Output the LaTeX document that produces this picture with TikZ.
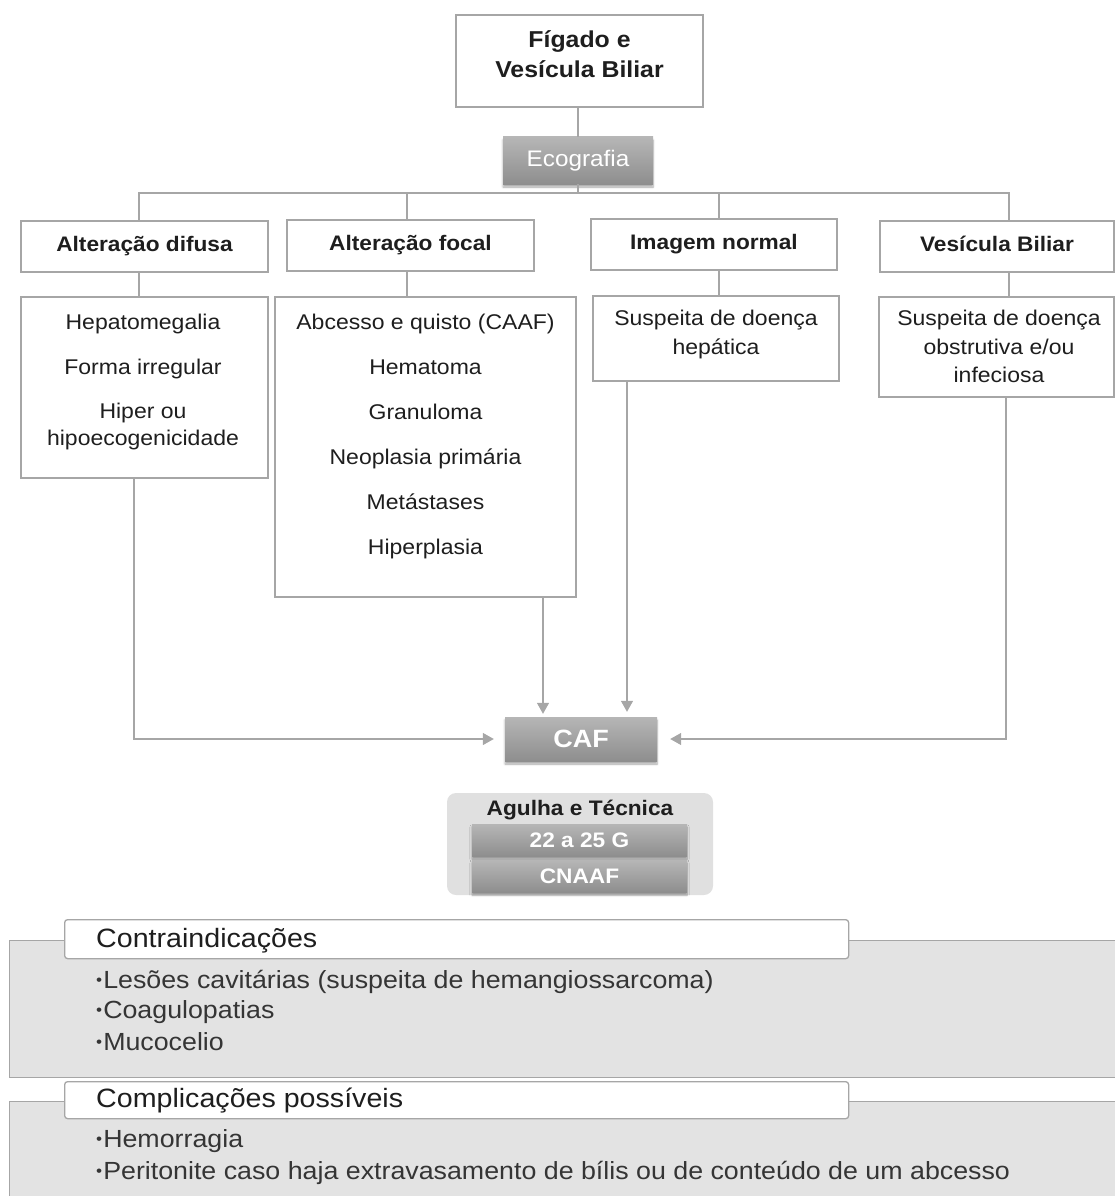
\documentclass[tikz,border=0pt]{standalone}
\usepackage{fontspec}
\setmainfont{Liberation Sans}[FakeStretch=1.08]
\usetikzlibrary{arrows.meta,shadows.blur}
\definecolor{lin}{HTML}{A6A6A6}
\definecolor{panel}{HTML}{E3E3E3}
\definecolor{agbg}{HTML}{E0E0E0}
\definecolor{gtop}{HTML}{B6B6B6}
\definecolor{gbot}{HTML}{8E8E8E}
\definecolor{ink}{HTML}{1E1E1E}
\newcommand\bdot{\raisebox{2.5pt}{\fontsize{16}{16}\selectfont •}\hspace{1pt}}
\tikzset{
  box/.style={draw=lin, line width=1.3pt, fill=white, inner sep=0pt},
  gbox/.style={inner sep=0pt, top color=gtop, bottom color=gbot, text=white,
     blur shadow={shadow xshift=0pt, shadow yshift=-3pt, shadow blur steps=6, shadow opacity=35}},
  conn/.style={draw=lin, line width=1.3pt},
  arr/.style={conn, -{Triangle[length=11pt,width=12pt]}},
  lbl/.style={anchor=base, inner sep=0pt, text=ink},
  body/.style={lbl, font=\fontsize{21.3}{25}\selectfont},
  head/.style={font=\bfseries\fontsize{21}{25}\selectfont, text=ink, text height=15pt, text depth=4.5pt},
  panelbox/.style={draw=lin, line width=1.3pt, fill=panel, inner sep=0pt, anchor=north west},
  tbox/.style={draw=lin, line width=1.3pt, fill=white, rounded corners=3pt, inner sep=0pt, anchor=north west},
  btitle/.style={anchor=base west, inner sep=0pt, text=ink, font=\fontsize{26.5}{30}\selectfont},
  bitem/.style={anchor=base west, inner sep=0pt, text=ink!90, font=\fontsize{24.8}{28}\selectfont},
}
\begin{document}
\begin{tikzpicture}[x=1pt,y=-1pt]
\path[use as bounding box] (0,0) rectangle (1115,1196);

% top
\node[box, minimum width=247pt, minimum height=92pt] (top) at (579.5,61) {};
\node[lbl, font=\bfseries\fontsize{23}{27}\selectfont] (topa) at (579.5,48) {Fígado e};
\node[lbl, font=\bfseries\fontsize{23}{27}\selectfont] (topb) at (579.5,78) {Vesícula Biliar};

\node[gbox, minimum width=150pt, minimum height=47pt, font=\fontsize{22.5}{27}\selectfont] (eco) at (578,160.5) {Ecografia};
\draw[conn] (eco.north |- top.south) -- (eco.north);
\coordinate (bar) at (578,193);

% level 2
\node[box, head, minimum width=247pt, minimum height=51pt] (difusa) at (144.5,246.5) {Alteração difusa};
\node[box, head, minimum width=247pt, minimum height=51pt] (focal) at (410.5,245.5) {Alteração focal};
\node[box, head, minimum width=246pt, minimum height=51pt] (normal) at (714,244.5) {Imagem normal};
\node[box, head, minimum width=234pt, minimum height=51pt] (vesic) at (997,246.5) {Vesícula Biliar};

\draw[conn] (eco.south) -- (bar);
\draw[conn] ([xshift=-5.5pt]difusa.north) |- (bar) -| ([xshift=12pt]vesic.north);
\draw[conn] ([xshift=-3.5pt]focal.north) |- (bar);
\draw[conn] ([xshift=5pt]normal.north) |- (bar);

% level 3
\node[box, minimum width=247pt, minimum height=181pt] (hep) at (144.5,387.5) {};
\node[box, minimum width=301pt, minimum height=300pt] (abc) at (425.5,447) {};
\node[box, minimum width=246pt, minimum height=85pt] (hepat) at (716,338.5) {};
\node[box, minimum width=235pt, minimum height=100pt] (obst) at (996.5,347) {};

\draw[conn] ([xshift=-5.5pt]difusa.south) -- ([xshift=-5.5pt]difusa.south |- hep.north);
\draw[conn] ([xshift=-3.5pt]focal.south) -- ([xshift=-3.5pt]focal.south |- abc.north);
\draw[conn] ([xshift=5pt]normal.south) -- ([xshift=5pt]normal.south |- hepat.north);
\draw[conn] ([xshift=12pt]vesic.south) -- ([xshift=12pt]vesic.south |- obst.north);

\node[body] (h1) at (143,329.5) {Hepatomegalia};
\node[body] (h2) at (143,374.5) {Forma irregular};
\node[body] (h3) at (143,418.5) {Hiper ou};
\node[body] (h4) at (143,445.5) {hipoecogenicidade};

\node[body] (a1) at (425.5,329.5) {Abcesso e quisto (CAAF)};
\node[body] (a2) at (425.5,374.5) {Hematoma};
\node[body] (a3) at (425.5,419.5) {Granuloma};
\node[body] (a4) at (425.5,464.5) {Neoplasia primária};
\node[body] (a5) at (425.5,509.5) {Metástases};
\node[body] (a6) at (425.5,554.5) {Hiperplasia};

\node[body] (n1) at (716,325) {Suspeita de doença};
\node[body] (n2) at (716,354) {hepática};

\node[body] (v1) at (999,325) {Suspeita de doença};
\node[body] (v2) at (999,354) {obstrutiva e/ou};
\node[body] (v3) at (999,382) {infeciosa};

% CAF
\node[gbox, minimum width=152pt, minimum height=44pt, font=\bfseries\fontsize{25}{29}\selectfont] (caf) at (581,739) {CAF};

\draw[arr, shorten >=11pt] ([xshift=-10.5pt]hep.south) |- (caf.west);
\draw[arr, shorten >=3pt] ([xshift=117.5pt]abc.south) -- ([xshift=117.5pt]abc.south |- caf.north);
\draw[arr, shorten >=5pt] ([xshift=-89pt]hepat.south) -- ([xshift=-89pt]hepat.south |- caf.north);
\draw[arr, shorten >=13pt] ([xshift=9.5pt]obst.south) |- (caf.east);

% Agulha
\node[fill=agbg, rounded corners=9pt, minimum width=266pt, minimum height=102pt, inner sep=0pt] (agp) at (580,844) {};
\node[lbl, font=\bfseries\fontsize{21}{25}\selectfont] (agt) at (580,815) {Agulha e Técnica};
\node[gbox, minimum width=215pt, minimum height=32pt, font=\bfseries\fontsize{21}{25}\selectfont] (g22) at (579.5,840) {22 a 25 G};
\node[gbox, minimum width=215pt, minimum height=32pt, font=\bfseries\fontsize{21}{25}\selectfont] (cnaaf) at (579.5,876) {CNAAF};

% Contraindicações
\node[panelbox, minimum width=1120pt, minimum height=137pt] (cpanel) at (9,940) {};
\node[tbox, minimum width=784pt, minimum height=39pt] (ctbox) at (64,919) {};
\node[btitle] (ctitle) at (96,947) {Contraindicações};
\node[bitem] (c1) at (96,988) {\bdot Lesões cavitárias (suspeita de hemangiossarcoma)};
\node[bitem] (c2) at (96,1018) {\bdot Coagulopatias};
\node[bitem] (c3) at (96,1050) {\bdot Mucocelio};

% Complicações
\node[panelbox, minimum width=1120pt, minimum height=120pt] (kpanel) at (9,1101) {};
\node[tbox, minimum width=784pt, minimum height=37pt] (ktbox) at (64,1081) {};
\node[btitle] (ktitle) at (96,1107) {Complicações possíveis};
\node[bitem] (k1) at (96,1147) {\bdot Hemorragia};
\node[bitem] (k2) at (96,1179) {\bdot Peritonite caso haja extravasamento de bílis ou de conteúdo de um abcesso};
\end{tikzpicture}
\end{document}
